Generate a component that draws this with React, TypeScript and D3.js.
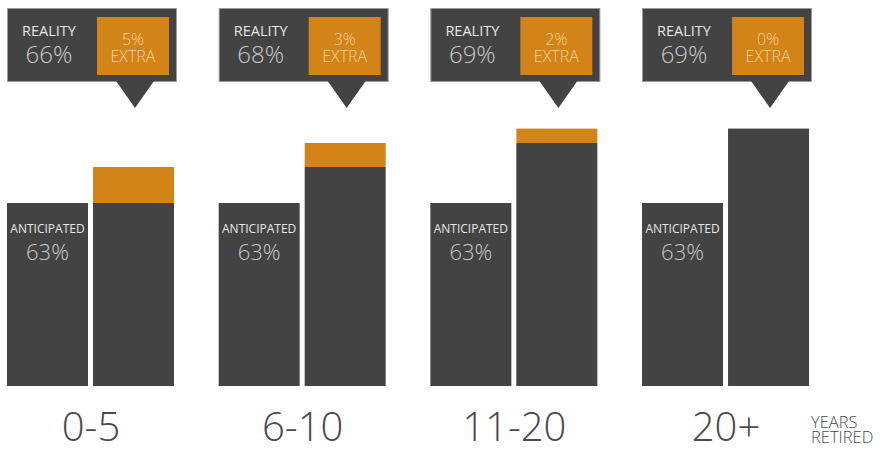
import React from "react";
import * as d3 from "d3";

const categories = ["0-5", "6-10", "11-20", "20+"];
const anticipated = [63, 63, 63, 63];
const realityLabel = [66, 68, 69, 69];
const extraLabel = [5, 3, 2, 0];
// bar heights
const realityBase = [63, 66, 68, 69.2];
const realityTop = [66, 68, 69.2, 69.2];

const W = 888;
const H = 452;
const DARK = "#434343";
const ORANGE = "#d38418";
const FONT = "'Open Sans', 'Roboto', sans-serif";

export default function App() {
  const x = d3.scaleBand<string>().domain(categories).range([7, 812]).paddingInner(0.197).paddingOuter(0);
  const y = d3.scaleLinear().domain([47.75, 63]).range([386, 203]);
  const barW = 81;
  const gap = 5;
  const boxW = 170;

  return (
    <svg width={W} height={H} style={{ position: "absolute", left: 0, top: 0, background: "#fff" }}>
      {categories.map((c, i) => {
        const x0 = x(c)!;
        const b1 = x0;
        const b2 = x0 + barW + gap;
        const tip = x0 + 128;
        return (
          <g key={c}>
            {/* callout */}
            <rect x={x0 + 0.5} y={8.5} width={boxW - 1} height={73} fill={DARK} stroke="#9a9a9a" strokeWidth={1} />
            <path d={`M${tip - 19},81 L${tip + 19},81 L${tip},108 Z`} fill={DARK} />
            <rect x={x0 + 90} y={17} width={72} height={58} fill={ORANGE} />
            <text x={x0 + 42} y={36} textAnchor="middle" fontFamily={FONT} fontSize={14.5} fill="#e6e6e6">REALITY</text>
            <text x={x0 + 42} y={63} textAnchor="middle" fontFamily={FONT} fontWeight={300} fontSize={24} fill="#c8c8c8">{realityLabel[i]}%</text>
            <text x={x0 + 126} y={44.5} textAnchor="middle" fontFamily={FONT} fontWeight={300} fontSize={16} fill="#f5d39b">{extraLabel[i]}%</text>
            <text x={x0 + 126} y={62} textAnchor="middle" fontFamily={FONT} fontWeight={300} fontSize={16} fill="#f5d39b">EXTRA</text>

            {/* anticipated bar */}
            <rect x={b1} y={y(anticipated[i])} width={barW} height={y(47.75) - y(anticipated[i])} fill={DARK} />
            <text x={b1 + barW / 2} y={y(anticipated[i]) + 30} textAnchor="middle" fontFamily={FONT} fontSize={12} fill="#e6e6e6">ANTICIPATED</text>
            <text x={b1 + barW / 2} y={y(anticipated[i]) + 57} textAnchor="middle" fontFamily={FONT} fontWeight={300} fontSize={22} fill="#c8c8c8">{anticipated[i]}%</text>

            {/* reality bar */}
            <rect x={b2} y={y(realityTop[i])} width={barW} height={y(realityBase[i]) - y(realityTop[i])} fill={ORANGE} />
            <rect x={b2} y={y(realityBase[i])} width={barW} height={y(47.75) - y(realityBase[i])} fill={DARK} />

            {/* category label */}
            <text x={x0 + 84} y={441} textAnchor="middle" fontFamily={FONT} fontWeight={300} fontSize={40} fill="#4a4a4a">{c}</text>
          </g>
        );
      })}
      <text x={811} y={428} fontFamily={FONT} fontWeight={300} fontSize={16.5} fill="#4a4a4a">YEARS</text>
      <text x={811} y={443} fontFamily={FONT} fontWeight={300} fontSize={16.5} fill="#4a4a4a">RETIRED</text>
    </svg>
  );
}
